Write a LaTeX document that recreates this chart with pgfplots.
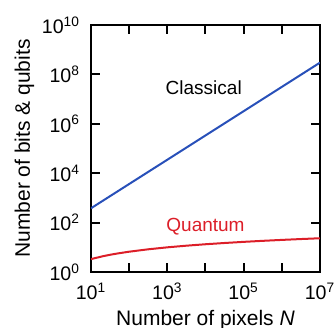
\documentclass[border=0pt]{standalone}
\usepackage{fontspec}
\setmainfont{Liberation Sans}
\usepackage{pgfplots}
\pgfplotsset{compat=1.18}
\definecolor{cblue}{RGB}{40,80,185}
\definecolor{cred}{RGB}{220,30,40}
\begin{document}
\begin{tikzpicture}
\begin{axis}[
  scale only axis, width=114.5pt, height=123.5pt,
  xmode=log, ymode=log,
  xmin=10, xmax=1e7, ymin=1, ymax=1e10,
  axis line style={line width=1.2pt},
  ticks=major,
  major tick length=4.5pt,
  every tick/.style={line width=1pt, black},
  tick align=inside,
  tick pos=both,
  xtick={10,100,1000,10000,100000,1000000,10000000},
  xticklabels={10\textsuperscript{1},,10\textsuperscript{3},,10\textsuperscript{5},,10\textsuperscript{7}},
  ytick={1,100,10000,1000000,100000000,10000000000},
  yticklabels={10\textsuperscript{0},10\textsuperscript{2},10\textsuperscript{4},10\textsuperscript{6},10\textsuperscript{8},10\textsuperscript{10}},
  ticklabel style={font=\fontsize{9.8}{11}\selectfont},
  xticklabel style={yshift=-2pt},
  yticklabel style={xshift=-2pt},
  xlabel={Number of pixels \textit{N}},
  ylabel={Number of bits \& qubits},
  label style={font=\fontsize{10.5}{12}\selectfont},
  xlabel style={yshift=2pt},
  ylabel style={yshift=-3pt},
]
\addplot[cblue, line width=1pt] coordinates {(10,380) (1e7,3.0e8)};
\addplot[cred, line width=1pt] coordinates {
(10,3.32) (20,4.32) (31.6,4.98) (50,5.64) (100,6.64) (316,8.30) (1000,9.97) (3162,11.63) (1e4,13.29) (3.16e4,14.95) (1e5,16.61) (3.16e5,18.27) (1e6,19.93) (3.16e6,21.59) (1e7,23.25)};
\node[font=\fontsize{9.5}{11}\selectfont] at (axis cs:9e3,2.8e7) {Classical};
\node[cred, font=\fontsize{9.5}{11}\selectfont] at (axis cs:1e4,66) {Quantum};
\end{axis}
\pgfresetboundingbox
\path[use as bounding box] (-45.5pt,-28pt) rectangle (121.5pt,136pt);
\end{tikzpicture}
\end{document}
